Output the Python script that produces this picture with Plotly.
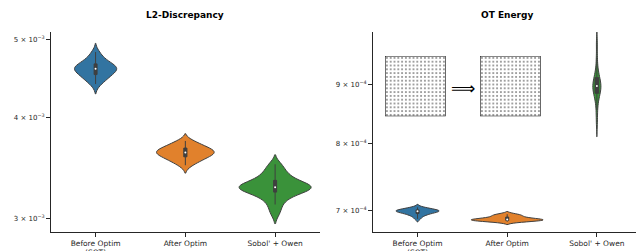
import numpy as np
import plotly.graph_objects as go

# browser page has an 8px body margin; the figure is placed at (8, 8)
OFF = 8
W, H = 644 - OFF, 251 - OFF

categories = ["Before Optim (SOT)", "After Optim", "Sobol' + Owen"]
tick_labels = ["Before Optim<br>(SOT)", "After Optim", "Sobol' + Owen"]
colors = ["#3274a1", "#e1812c", "#3a923a"]

# L2-Discrepancy samples
l2_before = [4.40e-3, 4.44e-3, 4.47e-3, 4.49e-3, 4.51e-3, 4.53e-3, 4.55e-3, 4.57e-3, 4.58e-3, 4.59e-3,
             4.60e-3, 4.61e-3, 4.62e-3, 4.63e-3, 4.65e-3, 4.67e-3, 4.69e-3, 4.72e-3, 4.76e-3, 4.82e-3]
l2_after = [3.49e-3, 3.52e-3, 3.54e-3, 3.55e-3, 3.57e-3, 3.58e-3, 3.59e-3, 3.60e-3, 3.61e-3, 3.62e-3,
            3.62e-3, 3.63e-3, 3.64e-3, 3.65e-3, 3.66e-3, 3.67e-3, 3.68e-3, 3.70e-3, 3.72e-3, 3.74e-3]
l2_sobol = [3.05e-3, 3.12e-3, 3.17e-3, 3.20e-3, 3.225e-3, 3.24e-3, 3.255e-3, 3.265e-3, 3.27e-3, 3.275e-3,
            3.28e-3, 3.29e-3, 3.30e-3, 3.315e-3, 3.33e-3, 3.355e-3, 3.38e-3, 3.41e-3, 3.45e-3, 3.50e-3]

# OT Energy samples
ot_before = [6.88e-4, 6.91e-4, 6.93e-4, 6.94e-4, 6.95e-4, 6.96e-4, 6.97e-4, 6.97e-4, 6.98e-4, 6.98e-4,
             6.99e-4, 6.99e-4, 6.99e-4, 7.00e-4, 7.00e-4, 7.01e-4, 7.01e-4, 7.02e-4, 7.03e-4, 7.04e-4]
ot_after = [6.840e-4, 6.845e-4, 6.850e-4, 6.855e-4, 6.860e-4, 6.860e-4, 6.865e-4, 6.865e-4, 6.870e-4, 6.870e-4,
            6.875e-4, 6.880e-4, 6.885e-4, 6.890e-4, 6.900e-4, 6.910e-4, 6.920e-4, 6.930e-4, 6.940e-4, 6.945e-4]
ot_sobol = [8.35e-4, 8.55e-4, 8.70e-4, 8.78e-4, 8.83e-4, 8.86e-4, 8.89e-4, 8.92e-4, 8.95e-4, 8.97e-4,
            8.98e-4, 9.00e-4, 9.03e-4, 9.06e-4, 9.10e-4, 9.15e-4, 9.20e-4, 9.30e-4, 9.50e-4, 9.78e-4]

l2_ticks = [3e-3, 4e-3, 5e-3]
l2_ticktext = ["3 × 10<sup>−3</sup>", "4 × 10<sup>−3</sup>", "5 × 10<sup>−3</sup>"]
ot_ticks = [7e-4, 8e-4, 9e-4]
ot_ticktext = ["7 × 10<sup>−4</sup>", "8 × 10<sup>−4</sup>", "9 × 10<sup>−4</sup>"]

l2_widths = [0.47, 0.64, 0.8]
ot_widths = [0.48, 0.8, 0.09]
l2_boxw = [0.07, 0.055, 0.042]
ot_boxw = [0.07, 0.042, 0.45]

FONT = "DejaVu Sans"
DARK = "#3f3f3f"
TXT = "#262626"

fig = go.Figure()

def add_panel(data, widths, boxw, xa, ya):
    for i, vals in enumerate(data):
        fig.add_trace(go.Violin(
            x=[categories[i]] * len(vals), y=vals,
            xaxis=xa, yaxis=ya,
            fillcolor=colors[i], line=dict(color=DARK, width=1),
            opacity=1, points=False, spanmode="soft",
            scalemode="width", width=widths[i],
            box=dict(visible=True, width=boxw[i], fillcolor=DARK,
                     line=dict(color=DARK, width=1)),
            meanline=dict(visible=False),
            showlegend=False, hoverinfo="skip",
        ))
    fig.add_trace(go.Scatter(
        x=categories, y=[float(np.median(v)) for v in data],
        xaxis=xa, yaxis=ya, mode="markers",
        marker=dict(color="white", size=2, line=dict(width=0)),
        showlegend=False, hoverinfo="skip",
    ))

add_panel([l2_before, l2_after, l2_sobol], l2_widths, l2_boxw, "x", "y")
add_panel([ot_before, ot_after, ot_sobol], ot_widths, ot_boxw, "x2", "y2")

# inset illustrations of point sets (decorative)
for xa, ya in [("x3", "y3"), ("x4", "y4")]:
    fig.add_trace(go.Scatter(
        x=[0, 1, 1, 0, 0], y=[0, 0, 1, 1, 0], xaxis=xa, yaxis=ya,
        mode="lines", fill="toself", line=dict(color="#111111", width=1.2),
        fillcolor="white",
        fillpattern=dict(shape=".", size=3.8, solidity=0.2, fgcolor="black", bgcolor="white"),
        showlegend=False, hoverinfo="skip",
    ))

def px_x(p):
    return (p - OFF) / W

def px_y(p):
    return 1 - (p - OFF) / H

ydom = [px_y(232), px_y(32)]
common_x = dict(
    type="category", categoryorder="array", categoryarray=categories,
    range=[-0.5, 2.5], showline=True, linecolor=TXT, linewidth=1.2,
    ticks="outside", ticklen=3.5, tickwidth=0.9, tickcolor=TXT,
    tickvals=categories, ticktext=tick_labels,
    tickfont=dict(family=FONT, size=7.5, color=TXT),
    showgrid=False, zeroline=False, fixedrange=True, automargin=False,
)
common_y = dict(
    type="log", showline=True, linecolor=TXT, linewidth=1.2,
    ticks="outside", ticklen=3.5, tickwidth=0.9, tickcolor=TXT,
    tickfont=dict(family=FONT, size=7, color=TXT),
    showgrid=False, zeroline=False, fixedrange=True, automargin=False,
)

fig.update_layout(
    width=W, height=H,
    margin=dict(l=0, r=0, t=0, b=0),
    paper_bgcolor="white", plot_bgcolor="white",
    violinmode="overlay",
    xaxis=dict(common_x, domain=[px_x(50.7), px_x(320)], anchor="y"),
    yaxis=dict(common_y, domain=ydom, anchor="x", range=[-2.5399, -2.2921],
               tickvals=l2_ticks, ticktext=l2_ticktext),
    xaxis2=dict(common_x, domain=[px_x(372.7), px_x(641.7)], anchor="y2"),
    yaxis2=dict(common_y, domain=ydom, anchor="x2", range=[-3.1738, -3.0001],
                tickvals=ot_ticks, ticktext=ot_ticktext),
    xaxis3=dict(domain=[px_x(385), px_x(445.7)], range=[0, 1], visible=False, anchor="y3", fixedrange=True),
    yaxis3=dict(domain=[px_y(116.3), px_y(56)], range=[0, 1], visible=False, anchor="x3", fixedrange=True),
    xaxis4=dict(domain=[px_x(480), px_x(540.7)], range=[0, 1], visible=False, anchor="y4", fixedrange=True),
    yaxis4=dict(domain=[px_y(116.3), px_y(56)], range=[0, 1], visible=False, anchor="x4", fixedrange=True),
    annotations=[
        dict(text="<b>L2-Discrepancy</b>", x=px_x(185.3), y=px_y(15), xref="paper", yref="paper",
             showarrow=False, font=dict(family=FONT, size=9, color="black"), xanchor="center", yanchor="middle"),
        dict(text="<b>OT Energy</b>", x=px_x(507.2), y=px_y(15), xref="paper", yref="paper",
             showarrow=False, font=dict(family=FONT, size=9, color="black"), xanchor="center", yanchor="middle"),
        dict(text="⟹", x=px_x(463), y=px_y(88), xref="paper", yref="paper",
             showarrow=False, font=dict(family=FONT, size=17, color="black"), xanchor="center", yanchor="middle"),
    ],
)

fig.write_html("out.html")
